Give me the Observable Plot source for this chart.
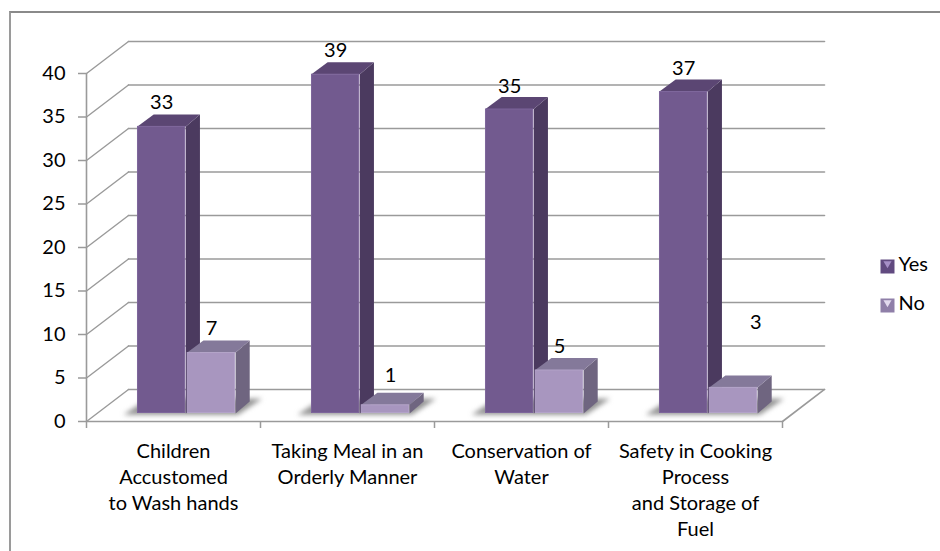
<!DOCTYPE html>
<html>
<head>
<meta charset="utf-8">
<script src="https://cdn.jsdelivr.net/npm/d3@7"></script>
<script src="https://cdn.jsdelivr.net/npm/@observablehq/plot@0.6"></script>
<style>
  html, body { margin: 0; padding: 0; background: #fff; overflow: hidden; }
  #edge { position: absolute; left: 9px; top: 11px; right: 0; bottom: 0; border-left: 2px solid #9a9a9a; border-top: 2px solid #8a8a8a; }
  #chart { position: absolute; left: 0; top: 0; }
  svg { display: block; }
</style>
</head>
<body>
<div id="edge"></div>
<div id="chart"></div>
<script>
const categories = [
  "Children\nAccustomed\nto Wash hands",
  "Taking Meal in an\nOrderly Manner",
  "Conservation of\nWater",
  "Safety in Cooking\nProcess\nand Storage of\nFuel"
];
const yesValues = [33, 39, 35, 37];
const noValues = [7, 1, 5, 3];
const seriesNames = ["Yes", "No"];
const valueTicks = [0, 5, 10, 15, 20, 25, 30, 35, 40];
const categoryTicks = [0, 1, 2, 3, 4];

// Layout of the pseudo-3D box, in scale units
const wallX = 0.2414, wallY = 3.68;      // depth of the back wall
const barX = 0.081, barY = 1.38;         // depth of a bar
const baseY = 0.92;                      // bars stand in from the front edge
const startX = 0.293, barW = 0.278, gap = 0.008;
const lift = {Yes: [2.7, 2.75, 2.55, 2.65], No: [2.75, 3.4, 2.7, 7.45]};
const nudge = {Yes: [0, 0, 0, 0], No: [0, 0.03, 0, 0.129]};

const colors = {
  Yes: {front: "#725a8f", edge: "#7d659b", side: "#4b3a5f", top: "#5b4673", swatch: "#614a80", tri: "#a68fc7"},
  No:  {front: "#a896bf", edge: "#b3a3c9", side: "#6f6580", top: "#84799a", swatch: "#8f7fa8", tri: "#e2daee"}
};

const bars = [];
categories.forEach((c, i) => {
  bars.push({s: seriesNames[0], i, v: yesValues[i], x0: i + startX, x1: i + startX + barW});
  bars.push({s: seriesNames[1], i, v: noValues[i], x0: i + startX + barW + gap, x1: i + startX + 2 * barW + gap});
});

const sides = bars.flatMap((b, k) => [
  [b.x1, baseY], [b.x1 + barX, baseY + barY], [b.x1 + barX, baseY + b.v + barY], [b.x1, baseY + b.v]
].map(([x, y]) => ({id: k, x, y, s: b.s})));
const tops = bars.flatMap((b, k) => [
  [b.x0, baseY + b.v], [b.x0 + barX + 0.012, baseY + b.v + barY], [b.x1 + barX, baseY + b.v + barY], [b.x1, baseY + b.v]
].map(([x, y]) => ({id: k, x, y, s: b.s})));
const shadows = categories.flatMap((c, i) => [
  [i + startX - 0.08, baseY - 0.15], [i + startX + 2 * barW + 0.02, baseY - 0.15],
  [i + startX + 2 * barW + 0.16, baseY + 1.7], [i + startX + 0.06, baseY + 1.7]
].map(([x, y]) => ({id: i, x, y})));

const gridBack = valueTicks.flatMap(v => [[wallX, v + wallY], [4 + wallX, v + wallY]].map(([x, y]) => ({id: v, x, y})));
const gridSide = valueTicks.flatMap(v => [[0, v], [wallX, v + wallY]].map(([x, y]) => ({id: v, x, y})));
const floorEdges = [
  {id: "front", x: 0, y: 0}, {id: "front", x: 4, y: 0},
  {id: "right", x: 4, y: 0}, {id: "right", x: 4 + wallX, y: wallY},
  {id: "left", x: 0, y: 0}, {id: "left", x: 0, y: 40}
];
const lineColor = "#9a9a9a";
const textColor = "#000";
const font = "Lato, 'Open Sans', sans-serif";

const labels = bars.map(b => ({
  x: (b.x0 + b.x1) / 2 + nudge[b.s][b.i],
  y: baseY + b.v + lift[b.s][b.i],
  t: String(b.v)
}));
const catLabels = categories.map((c, i) => ({x: i + 0.5, t: c}));

const barLayer = (s) => [
  Plot.line(sides.filter(d => d.s === s), {x: "x", y: "y", z: "id", fill: colors[s].side, stroke: "none"}),
  Plot.line(tops.filter(d => d.s === s), {x: "x", y: "y", z: "id", fill: colors[s].top, stroke: "none"}),
  Plot.rect(bars.filter(d => d.s === s), {
    x1: "x0", x2: "x1", y1: () => baseY, y2: d => baseY + d.v,
    fill: colors[s].front, stroke: colors[s].edge, strokeWidth: 1, inset: 0.5
  })
];

const legendMark = (s, row) => {
  const dx = 887 - 86, dy = (row === 0 ? 266 : 305) - 73;
  return [
    Plot.dot([s], {frameAnchor: "top-left", dx, dy, symbol: "square", r: 7.9, fill: colors[s].swatch, stroke: "none"}),
    Plot.dot([s], {frameAnchor: "top-left", dx, dy: dy - 3, symbol: "triangle", rotate: 180, r: 3, fill: colors[s].tri, stroke: "none"}),
    Plot.text([s], {frameAnchor: "top-left", dx: dx + 11, dy: dy - 2, text: d => d, textAnchor: "start", lineAnchor: "middle", fontSize: 20, fill: textColor})
  ];
};

const chart = Plot.plot({
  width: 940,
  height: 551,
  marginLeft: 86,
  marginRight: 158,
  marginTop: 73,
  marginBottom: 130,
  style: {background: "transparent", fontFamily: font},
  x: {type: "linear", domain: [0, 4], axis: null},
  y: {type: "linear", domain: [0, 40], axis: null},
  marks: [
    Plot.line(gridBack, {x: "x", y: "y", z: "id", stroke: lineColor, strokeWidth: 1.6}),
    Plot.line(gridSide, {x: "x", y: "y", z: "id", stroke: lineColor, strokeWidth: 1.4}),
    Plot.line(floorEdges, {x: "x", y: "y", z: "id", stroke: lineColor, strokeWidth: 1.6}),
    Plot.axisY({ticks: valueTicks, tickSize: 8, tickPadding: 13, fontSize: 20, stroke: lineColor, strokeWidth: 1.5, color: textColor, fill: textColor, label: null}),
    Plot.axisX({ticks: categoryTicks, tickSize: 7, tickFormat: () => "", stroke: lineColor, strokeWidth: 1.5, label: null}),
    Plot.line(shadows, {x: "x", y: "y", z: "id", fill: "#777", stroke: "none", fillOpacity: 0.8, imageFilter: "blur(2.5px)"}),
    ...barLayer("Yes"),
    ...barLayer("No"),
    Plot.text(labels, {x: "x", y: "y", text: "t", fontSize: 20, fill: textColor}),
    Plot.text(catLabels, {x: "x", y: () => 0, text: "t", lineAnchor: "top", dy: 18, lineHeight: 1.3, fontSize: 20, fill: textColor}),
    ...legendMark("Yes", 0),
    ...legendMark("No", 1)
  ]
});
document.getElementById("chart").appendChild(chart);
</script>
</body>
</html>
